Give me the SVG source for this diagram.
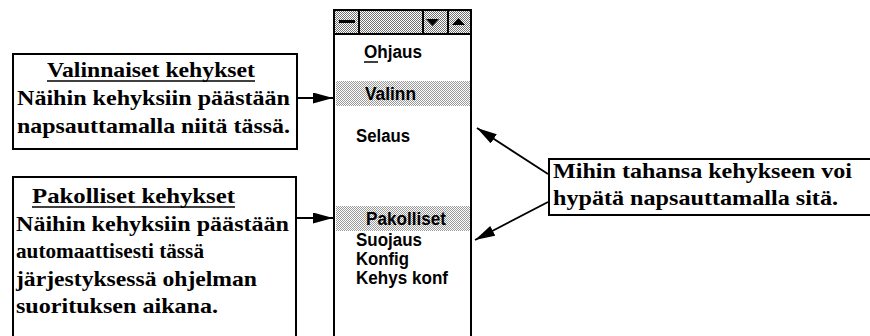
<svg xmlns="http://www.w3.org/2000/svg" width="870" height="336" viewBox="0 0 870 336">
  <style>
    .box { fill: #fff; stroke: #000; stroke-width: 2; }
    .serif { font-family: "Liberation Serif", "Times New Roman", serif; font-weight: bold; font-size: 21px; fill: #000; }
    .sans { font-family: "Liberation Sans", Arial, sans-serif; font-weight: bold; font-size: 18px; fill: #000; }
    .ul { stroke: #000; stroke-width: 1.5; }
    .conn { stroke: #000; stroke-width: 1.8; fill: none; }
    .win { fill: #fff; stroke: #000; stroke-width: 2; }
    .sep { stroke: #000; stroke-width: 2; }
  </style>
  <defs>
    <pattern id="titlePat" width="2" height="2" patternUnits="userSpaceOnUse">
      <rect width="2" height="2" fill="#ffffff"/>
      <rect width="1" height="1" fill="#707070"/>
      <rect x="1" y="1" width="1" height="1" fill="#707070"/>
    </pattern>
    <pattern id="hlPat" width="2" height="2" patternUnits="userSpaceOnUse">
      <rect width="2" height="2" fill="#ffffff"/>
      <rect width="1" height="1" fill="#999999"/>
      <rect x="1" y="1" width="1" height="1" fill="#999999"/>
    </pattern>
    <marker id="arrow" markerUnits="userSpaceOnUse" markerWidth="22" markerHeight="12" refX="20" refY="5.5" orient="auto">
      <path d="M0,0 L20,5.5 L0,11 z" fill="#000"/>
    </marker>
  </defs>

  <rect width="870" height="336" fill="#fff"/>

  <g id="window">
    <rect class="win" x="334" y="10" width="137" height="340"/>
    <rect x="335" y="11" width="135" height="23" fill="url(#titlePat)"/>
    <line class="sep" x1="334" y1="34" x2="471" y2="34"/>
    <line class="sep" x1="359" y1="10" x2="359" y2="34"/>
    <line class="sep" x1="423" y1="10" x2="423" y2="34"/>
    <line class="sep" x1="448" y1="10" x2="448" y2="34"/>
    <rect x="339" y="20" width="16" height="3" fill="#000"/>
    <polygon points="426,19 439,19 432.5,26" fill="#000"/>
    <polygon points="452,25 465,25 458.5,18" fill="#000"/>
    <rect x="336" y="81" width="134" height="25" fill="url(#hlPat)"/>
    <rect x="336" y="206" width="134" height="25" fill="url(#hlPat)"/>
    <text class="sans" x="364" y="58" textLength="58" lengthAdjust="spacingAndGlyphs">Ohjaus</text>
    <line x1="364" y1="62" x2="378" y2="62" stroke="#000" stroke-width="1.5"/>
    <text class="sans" x="365" y="100" textLength="51" lengthAdjust="spacingAndGlyphs">Valinn</text>
    <text class="sans" x="356" y="142" textLength="54" lengthAdjust="spacingAndGlyphs">Selaus</text>
    <text class="sans" x="366" y="225" textLength="80" lengthAdjust="spacingAndGlyphs">Pakolliset</text>
    <text class="sans" x="356" y="246" textLength="66" lengthAdjust="spacingAndGlyphs">Suojaus</text>
    <text class="sans" x="356" y="265" textLength="53" lengthAdjust="spacingAndGlyphs">Konfig</text>
    <text class="sans" x="356" y="284" textLength="92" lengthAdjust="spacingAndGlyphs">Kehys konf</text>
  </g>

  <g id="optional-box">
    <rect class="box" x="13" y="54" width="284" height="95"/>
    <text class="serif" x="47" y="77" textLength="208" lengthAdjust="spacingAndGlyphs">Valinnaiset kehykset</text>
    <line class="ul" x1="47" y1="81" x2="255" y2="81"/>
    <text class="serif" x="17" y="105" textLength="273" lengthAdjust="spacingAndGlyphs">Näihin kehyksiin päästään</text>
    <text class="serif" x="17" y="133" textLength="273" lengthAdjust="spacingAndGlyphs">napsauttamalla niitä tässä.</text>
  </g>

  <g id="mandatory-box">
    <rect class="box" x="13" y="177" width="283" height="180"/>
    <text class="serif" x="32" y="203" textLength="203" lengthAdjust="spacingAndGlyphs">Pakolliset kehykset</text>
    <line class="ul" x1="32" y1="207" x2="235" y2="207"/>
    <text class="serif" x="16" y="231" textLength="273" lengthAdjust="spacingAndGlyphs">Näihin kehyksiin päästään</text>
    <text class="serif" x="16" y="258" textLength="188" lengthAdjust="spacingAndGlyphs">automaattisesti tässä</text>
    <text class="serif" x="16" y="286" textLength="241" lengthAdjust="spacingAndGlyphs">järjestyksessä ohjelman</text>
    <text class="serif" x="16" y="313" textLength="202" lengthAdjust="spacingAndGlyphs">suorituksen aikana.</text>
  </g>

  <g id="jump-box">
    <rect class="box" x="549" y="159" width="340" height="56"/>
    <text class="serif" x="553" y="178" textLength="299" lengthAdjust="spacingAndGlyphs">Mihin tahansa kehykseen voi</text>
    <text class="serif" x="553" y="205" textLength="285" lengthAdjust="spacingAndGlyphs">hypätä napsauttamalla sitä.</text>
  </g>

  <g id="connectors">
    <line class="conn" x1="297" y1="98" x2="333" y2="98" marker-end="url(#arrow)"/>
    <line class="conn" x1="296" y1="218" x2="333" y2="218" marker-end="url(#arrow)"/>
    <line class="conn" x1="548" y1="174" x2="477" y2="128" marker-end="url(#arrow)"/>
    <line class="conn" x1="548" y1="202" x2="475" y2="240" marker-end="url(#arrow)"/>
  </g>
</svg>
